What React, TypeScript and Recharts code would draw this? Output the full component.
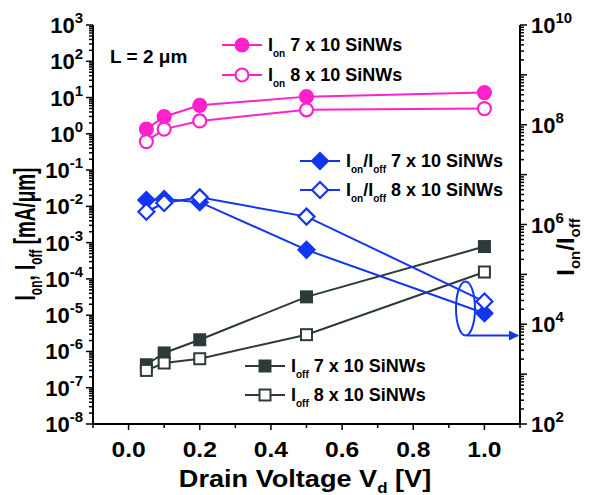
import React from "react";
import { LineChart, Line, XAxis, YAxis } from "recharts";

const vd = [0.05, 0.1, 0.2, 0.5, 1.0];
const ionA = [1.35, 2.96, 6.1, 10.6, 13.7];
const ionB = [0.61, 1.35, 2.26, 4.6, 4.95];
const ratioA = [3.1e6, 3.25e6, 2.8e6, 3.1e5, 1.66e4];
const ratioB = [1.8e6, 2.7e6, 3.5e6, 1.44e6, 2.85e4];
const ioffA = [4.3e-7, 9.1e-7, 2.1e-6, 3.2e-5, 7.8e-4];
const ioffB = [3.0e-7, 4.8e-7, 6.3e-7, 2.9e-6, 1.55e-4];

const xTicks = [-0.1, 0, 0.1, 0.2, 0.3, 0.4, 0.5, 0.6, 0.7, 0.8, 0.9, 1.0, 1.1];
const xMajor = [0, 0.2, 0.4, 0.6, 0.8, 1.0];
const leftExps = [-8, -7, -6, -5, -4, -3, -2, -1, 0, 1, 2, 3];
const rightExps = [2, 3, 4, 5, 6, 7, 8, 9, 10];
const rightLabelExps = [2, 4, 6, 8, 10];

const PINK = "#ff22cc";
const BLUE = "#1236f0";
const GRAY = "#2c3a3a";
const FONT = "'Liberation Sans', Arial, sans-serif";

const data = vd.map((v, i) => ({
  vd: v,
  ionA: ionA[i],
  ionB: ionB[i],
  ratioA: ratioA[i],
  ratioB: ratioB[i],
  ioffA: ioffA[i],
  ioffB: ioffB[i],
}));

function logTicks(exps: number[]) {
  const out: number[] = [];
  exps.forEach((e, idx) => {
    out.push(Number(`1e${e}`));
    if (idx < exps.length - 1) {
      for (let k = 2; k <= 9; k++) out.push(Number(`${k}e${e}`));
    }
  });
  return out;
}
const leftTicks = logTicks(leftExps);
const rightTicks = logTicks(rightExps);

function expOf(v: number) {
  const l = Math.log10(v);
  const r = Math.round(l);
  return { major: Math.abs(l - r) < 1e-6, exp: r };
}

const LeftTick = (props: any) => {
  const { x, y, payload } = props;
  const { major, exp } = expOf(payload.value);
  return (
    <g>
      <line x1={x - (major ? 7 : 4)} x2={x} y1={y} y2={y} stroke="#000" strokeWidth={1.5} />
      {major && (
        <text x={x - 10} y={y + 8} textAnchor="end" fontFamily={FONT} fontWeight="bold" fill="#000">
          <tspan fontSize={22}>10</tspan>
          <tspan fontSize={15} dy={-10}>{String(exp)}</tspan>
        </text>
      )}
    </g>
  );
};

const RightTick = (props: any) => {
  const { x, y, payload } = props;
  const { major, exp } = expOf(payload.value);
  const labeled = major && rightLabelExps.includes(exp);
  return (
    <g>
      <line x1={x} x2={x + (major ? 7 : 4)} y1={y} y2={y} stroke="#000" strokeWidth={1.5} />
      {labeled && (
        <text x={x + 11} y={y + 8} textAnchor="start" fontFamily={FONT} fontWeight="bold" fill="#000">
          <tspan fontSize={22}>10</tspan>
          <tspan fontSize={15} dy={-10}>{String(exp)}</tspan>
        </text>
      )}
    </g>
  );
};

const BottomTick = (props: any) => {
  const { x, y, payload } = props;
  const v = payload.value;
  const major = xMajor.some((m) => Math.abs(m - v) < 1e-6);
  return (
    <g>
      <line x1={x} x2={x} y1={y} y2={y + (major ? 6 : 4)} stroke="#000" strokeWidth={1.5} />
      {major && (
        <text
          transform={`translate(${x},${y + 33}) scale(1.12,1)`}
          textAnchor="middle"
          fontFamily={FONT}
          fontWeight="bold"
          fontSize={22}
          fill="#000"
        >
          {v.toFixed(1)}
        </text>
      )}
    </g>
  );
};

const circleDot = (filled: boolean) => (p: any) => (
  <circle key={`c${p.index}`} cx={p.cx} cy={p.cy} r={6.5} fill={filled ? PINK : "#fff"} stroke={PINK} strokeWidth={2.2} />
);
const diamondDot = (filled: boolean) => (p: any) => {
  const s = 8;
  return (
    <polygon
      key={`d${p.index}`}
      points={`${p.cx},${p.cy - s} ${p.cx + s},${p.cy} ${p.cx},${p.cy + s} ${p.cx - s},${p.cy}`}
      fill={filled ? BLUE : "#fff"}
      stroke={BLUE}
      strokeWidth={2.2}
    />
  );
};
const squareDot = (filled: boolean) => (p: any) => (
  <rect key={`s${p.index}`} x={p.cx - 5.5} y={p.cy - 5.5} width={11} height={11} fill={filled ? GRAY : "#fff"} stroke={GRAY} strokeWidth={2} />
);

const Sub = ({ children }: any) => (
  <tspan fontSize={10} dy={6}>{children}</tspan>
);

function LegendRow({ x, y, color, marker, filled, label }: any) {
  const lx1 = x - 20;
  const lx2 = x + 20;
  let m: any = null;
  if (marker === "circle") m = <circle cx={x} cy={y} r={6.5} fill={filled ? color : "#fff"} stroke={color} strokeWidth={2.2} />;
  if (marker === "diamond")
    m = <polygon points={`${x},${y - 8} ${x + 8},${y} ${x},${y + 8} ${x - 8},${y}`} fill={filled ? color : "#fff"} stroke={color} strokeWidth={2.2} />;
  if (marker === "square") m = <rect x={x - 5.5} y={y - 5.5} width={11} height={11} fill={filled ? color : "#fff"} stroke={color} strokeWidth={2} />;
  return (
    <g>
      <line x1={lx1} x2={lx2} y1={y} y2={y} stroke={color} strokeWidth={2} />
      {m}
      <text x={lx2 + 6} y={y + 6} fontFamily={FONT} fontWeight="bold" fontSize={18} fill="#000">
        {label}
      </text>
    </g>
  );
}

export default function App() {
  return (
    <div style={{ position: "absolute", left: 0, top: 0, width: 596, height: 495, background: "#fff" }}>
      <LineChart width={596} height={495} data={data} margin={{ top: 25, right: 0, bottom: 0, left: 0 }}>
        <XAxis
          dataKey="vd"
          type="number"
          domain={[-0.1, 1.1]}
          ticks={xTicks}
          interval={0}
          height={71}
          tickSize={0}
          tickMargin={0}
          tickLine={false}
          tick={<BottomTick />}
          axisLine={{ stroke: "#000", strokeWidth: 2 }}
        />
        <XAxis
          xAxisId="top"
          orientation="top"
          type="number"
          dataKey="vd"
          domain={[-0.1, 1.1]}
          height={0}
          tick={false}
          tickLine={false}
          axisLine={{ stroke: "#000", strokeWidth: 2 }}
        />
        <YAxis
          yAxisId="left"
          type="number"
          scale="log"
          domain={[1e-8, 1e3]}
          allowDataOverflow
          ticks={leftTicks}
          interval={0}
          width={93}
          tickSize={0}
          tickMargin={0}
          tickLine={false}
          tick={<LeftTick />}
          axisLine={{ stroke: "#000", strokeWidth: 2 }}
        />
        <YAxis
          yAxisId="right"
          orientation="right"
          type="number"
          scale="log"
          domain={[1e2, 1e10]}
          allowDataOverflow
          ticks={rightTicks}
          interval={0}
          width={76}
          tickSize={0}
          tickMargin={0}
          tickLine={false}
          tick={<RightTick />}
          axisLine={{ stroke: "#000", strokeWidth: 2 }}
        />
        <Line yAxisId="left" dataKey="ioffA" stroke={GRAY} strokeWidth={2} dot={squareDot(true)} isAnimationActive={false} />
        <Line yAxisId="left" dataKey="ioffB" stroke={GRAY} strokeWidth={2} dot={squareDot(false)} isAnimationActive={false} />
        <Line yAxisId="right" dataKey="ratioA" stroke={BLUE} strokeWidth={2} dot={diamondDot(true)} isAnimationActive={false} />
        <Line yAxisId="right" dataKey="ratioB" stroke={BLUE} strokeWidth={2} dot={diamondDot(false)} isAnimationActive={false} />
        <Line yAxisId="left" dataKey="ionA" stroke={PINK} strokeWidth={2} dot={circleDot(true)} isAnimationActive={false} />
        <Line yAxisId="left" dataKey="ionB" stroke={PINK} strokeWidth={2} dot={circleDot(false)} isAnimationActive={false} />
      </LineChart>
      <svg width={596} height={495} style={{ position: "absolute", left: 0, top: 0, pointerEvents: "none" }}>
        <defs>
          <marker id="arr" viewBox="0 0 10 10" refX="9" refY="5" markerWidth="5" markerHeight="5" orient="auto">
            <path d="M0,0 L10,5 L0,10 z" fill={BLUE} />
          </marker>
        </defs>
        <text x={110} y={63} fontFamily={FONT} fontWeight="bold" fontSize={19} fill="#000">
          L = 2 μm
        </text>
        <LegendRow x={242} y={45} color={PINK} marker="circle" filled label={<><tspan>I</tspan><Sub>on</Sub><tspan dy={-6}> 7 x 10 SiNWs</tspan></>} />
        <LegendRow x={242} y={75} color={PINK} marker="circle" filled={false} label={<><tspan>I</tspan><Sub>on</Sub><tspan dy={-6}> 8 x 10 SiNWs</tspan></>} />
        <LegendRow x={320} y={161} color={BLUE} marker="diamond" filled label={<><tspan>I</tspan><Sub>on</Sub><tspan dy={-6}>/I</tspan><Sub>off</Sub><tspan dy={-6}> 7 x 10 SiNWs</tspan></>} />
        <LegendRow x={320} y={190} color={BLUE} marker="diamond" filled={false} label={<><tspan>I</tspan><Sub>on</Sub><tspan dy={-6}>/I</tspan><Sub>off</Sub><tspan dy={-6}> 8 x 10 SiNWs</tspan></>} />
        <LegendRow x={265} y={366} color={GRAY} marker="square" filled label={<><tspan>I</tspan><Sub>off</Sub><tspan dy={-6}> 7 x 10 SiNWs</tspan></>} />
        <LegendRow x={265} y={395} color={GRAY} marker="square" filled={false} label={<><tspan>I</tspan><Sub>off</Sub><tspan dy={-6}> 8 x 10 SiNWs</tspan></>} />
        <ellipse cx={465.5} cy={308.5} rx={9.5} ry={27} fill="none" stroke={BLUE} strokeWidth={2} />
        <line x1={467} y1={335.5} x2={518} y2={335.5} stroke={BLUE} strokeWidth={2} markerEnd="url(#arr)" />
        <text transform="translate(305,487) scale(1.13,1)" textAnchor="middle" fontFamily={FONT} fontWeight="bold" fontSize={24} fill="#000">
          <tspan>Drain Voltage V</tspan>
          <tspan fontSize={15} dy={6}>d</tspan>
          <tspan dy={-6}> [V]</tspan>
        </text>
        <text transform="translate(35,234) rotate(-90) scale(0.63,1)" textAnchor="middle" fontFamily={FONT} fontWeight="bold" fontSize={30} fill="#000">
          <tspan>I</tspan>
          <tspan fontSize={19} dy={7}>on</tspan>
          <tspan dy={-7}>, I</tspan>
          <tspan fontSize={19} dy={7}>off</tspan>
          <tspan dy={-7}> [mA/μm]</tspan>
        </text>
        <text transform="translate(574,247) rotate(-90)" textAnchor="middle" fontFamily={FONT} fontWeight="bold" fontSize={24} fill="#000">
          <tspan>I</tspan>
          <tspan fontSize={15} dy={6}>on</tspan>
          <tspan dy={-6}>/I</tspan>
          <tspan fontSize={15} dy={6}>off</tspan>
        </text>
      </svg>
    </div>
  );
}
